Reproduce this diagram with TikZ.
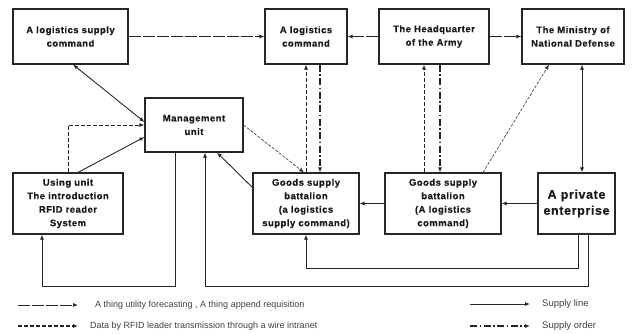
\documentclass[tikz,border=0pt]{standalone}
\usepackage{fontspec}
\setmainfont{Liberation Sans}
\newfontfamily\boxfont[LetterSpace=5,FakeBold=0.4]{Liberation Sans Bold}
\usetikzlibrary{arrows.meta,calc}
\tikzset{
  box/.style={draw=black!85, line width=1.1pt, inner sep=0pt, align=center,
    font=\boxfont\fontsize{9.5}{13.5}\selectfont, text=black!90},
  tip/.style={-{Latex[length=5pt,width=4pt]}},
  supply/.style={tip, line width=0.9pt, draw=black!85},
  forecast/.style={supply, dash pattern=on 12pt off 2pt},
  rfid/.style={tip, line width=1pt, draw=black!85, dash pattern=on 4pt off 2pt},
  thindash/.style={tip, line width=0.6pt, draw=black!80, dash pattern=on 3pt off 1.5pt},
  order/.style={tip, line width=1.2pt, draw=black!85, dash pattern=on 7pt off 2.5pt on 1.5pt off 2.5pt},
  legtext/.style={anchor=west, inner sep=0pt, font=\fontsize{9}{10}\selectfont, text=black!75}
}
\begin{document}
\begin{tikzpicture}[x=1pt,y=-1pt]
\useasboundingbox (0,0) rectangle (632,333);
% boxes
\node[box, minimum width=115pt, minimum height=55pt] (lsc) at (70.5,36.5) {A logistics supply\\command};
\node[box, minimum width=82pt, minimum height=55pt] (lc) at (306,36.5) {A logistics\\command};
\node[box, minimum width=110pt, minimum height=55pt] (hq) at (434,36.5) {The Headquarter\\of the Army};
\node[box, minimum width=102pt, minimum height=55pt] (mnd) at (573,36.5) {The Ministry of\\National Defense};
\node[box, minimum width=98pt, minimum height=54pt] (mu) at (194,125) {Management\\unit};
\node[box, minimum width=110pt, minimum height=61pt] (uu) at (68,203.5) {Using unit\\The introduction\\RFID reader\\System};
\node[box, minimum width=106pt, minimum height=61pt] (gs1) at (306,203.5) {Goods supply\\battalion\\(a logistics\\supply command)};
\node[box, minimum width=116pt, minimum height=61pt] (gs2) at (443,203.5) {Goods supply\\battalion\\(A logistics\\command)};
\node[box, minimum width=77pt, minimum height=61pt, font=\boxfont\fontsize{12.5}{16}\selectfont] (pe) at (576.5,203.5) {A private\\enterprise};
% top row
\draw[forecast] (lsc.east) -- (lc.west);
\draw[forecast] (hq.west) -- (lc.east);
\draw[forecast] (hq.east) -- (mnd.west);
% management unit links
\draw[supply, {Latex[length=5pt,width=4pt]}-{Latex[length=5pt,width=4pt]}] ($(lsc.south)+(2.5,0)$) -- ($(mu.west)+(0,-3)$);
\draw[rfid] (uu.north) |- (mu.west);
\draw[supply] (78,0 |- uu.north) -- ($(mu.west)+(0,12)$);
\draw[thindash] (mu.east) -- ($(gs1.north)+(-2,0)$);
\draw[supply] ($(gs1.west)+(0,-16)$) -- (217,0 |- mu.south);
% logistics command <-> gs1
\draw[rfid] (gs1.north) -- (lc.south);
\draw[order] ($(lc.south)+(14,0)$) -- ($(gs1.north)+(14,0)$);
% HQ <-> gs2
\draw[rfid] (424,0 |- gs2.north) -- (424,0 |- hq.south);
\draw[order] (440,0 |- hq.south) -- (440,0 |- gs2.north);
\draw[thindash] (483,0 |- gs2.north) -- (549,0 |- mnd.south);
% ministry <-> private enterprise
\draw[supply, {Latex[length=5pt,width=4pt]}-{Latex[length=5pt,width=4pt]}] (582,0 |- mnd.south) -- (582,0 |- pe.north);
% supply line along bottom row
\draw[supply] (pe.west) -- (gs2.east);
\draw[supply] (gs2.west) -- (gs1.east);
\draw[supply] (578,0 |- pe.south) -- (578,268) -| (gs1.south);
\draw[supply] (588,0 |- pe.south) -- (588,286) -| (205,0 |- mu.south);
\draw[supply] (175,0 |- mu.south) -- (175,286) -| (42,0 |- uu.south);
% legend
\coordinate (l1a) at (18,305); \coordinate (l1b) at (78,305);
\coordinate (l2a) at (18,326); \coordinate (l2b) at (78,326);
\coordinate (l3a) at (470,304); \coordinate (l3b) at (530,304);
\coordinate (l4a) at (470,326); \coordinate (l4b) at (530,326);
\draw[forecast] (l1a) -- (l1b);
\draw[rfid, line width=1.3pt] (l2a) -- (l2b);
\draw[supply] (l3a) -- (l3b);
\draw[order, line width=1.5pt] (l4a) -- (l4b);
\node[legtext] (t1) at (95,305) {A thing utility forecasting , A thing append requisition};
\node[legtext] (t2) at (90,326) {Data by RFID leader transmission through a wire intranet};
\node[legtext, font=\fontsize{9.5}{10}\selectfont] (t3) at (542,304) {Supply line};
\node[legtext, font=\fontsize{9.5}{10}\selectfont] (t4) at (542,326) {Supply order};
\end{tikzpicture}
\end{document}
